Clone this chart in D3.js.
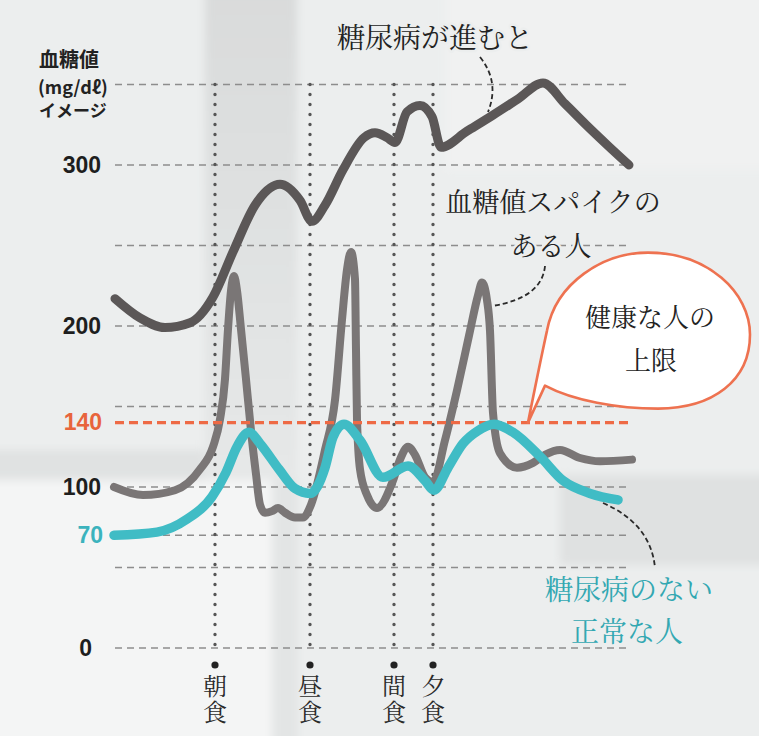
<!DOCTYPE html>
<html><head><meta charset="utf-8">
<script src="https://cdn.jsdelivr.net/npm/d3@7"></script>
<style>body{margin:0;background:#ebeced;} svg{display:block}</style>
</head><body><svg id="c" width="759" height="736"></svg>
<script>
// ---- data (time units along x, blood glucose mg/dl along y) ----
const advT = [2, 27, 52, 77, 100, 120, 142, 167, 187, 199, 212, 230, 251, 262, 274, 282, 294, 307, 319, 328, 354, 380, 405, 430, 452, 473, 495, 516];
const advV = [217, 205, 199, 202, 218, 246, 275, 288, 278, 265, 275, 297, 317, 320, 317, 314, 333, 337, 330, 311, 321, 331, 341, 351, 338, 325, 312, 300];

const spikeT = [1, 30, 62, 87, 100, 107, 112, 115, 118, 121, 124, 128, 133, 138, 143, 147, 152, 159, 165, 172, 182, 190, 198, 212, 222, 229, 234, 238, 242, 243, 244, 247, 254, 264, 280, 287, 295, 302, 312, 320, 332, 344, 356, 365, 369, 374, 377, 380, 387, 404, 420, 432, 447, 467, 487, 519];
const spikeV = [100, 95, 98, 111, 125, 142, 167, 198, 222, 231, 222, 198, 167, 135, 108, 89, 84, 85, 87, 84, 81, 81, 89, 123, 154, 204, 235, 246, 229, 185, 142, 111, 95, 87, 104, 117, 125, 120, 106, 103, 129, 160, 194, 219, 227, 216, 197, 146, 121, 112, 115, 120, 123, 118, 116, 117];

const normT = [1, 44, 74, 99, 113, 124, 136, 147, 166, 182, 197, 212, 220, 231, 247, 270, 295, 312, 321, 335, 350, 365, 381, 400, 427, 450, 477, 505];
const normV = [70, 72, 80, 94, 109, 125, 134, 127, 111, 99, 96, 112, 131, 139, 129, 106, 113, 104, 98, 112, 127, 135, 139, 134, 119, 104, 96, 92];

const gridValues = [0, 50, 70, 100, 150, 200, 250, 300, 350];
const limitValue = 140;
const tickValues = [300, 200, 140, 100, 70, 0];
const mealNames = ["朝食", "昼食", "間食", "夕食"];
const mealT = [102, 197, 281, 320];

// ---- setup ----
const svg = d3.select("#c");
const x = d3.scaleLinear().domain([0, 520]).range([113, 633]);
const y = d3.scaleLinear().domain([0, 350]).range([648, 84.5]);
const jp = '"Noto Serif CJK JP","Noto Sans CJK JP",sans-serif';
const BG = "#eceeee";

// background paper texture (soft)
const defs = svg.append("defs");
defs.append("filter").attr("id","soft").attr("x","-20%").attr("y","-20%").attr("width","140%").attr("height","140%")
  .append("feGaussianBlur").attr("stdDeviation", 4);
const g1 = defs.append("linearGradient").attr("id","band").attr("x1",0).attr("y1",0).attr("x2",0).attr("y2",1);
g1.append("stop").attr("offset","0").attr("stop-color","#d9dbdb");
g1.append("stop").attr("offset","1").attr("stop-color","#e6e8e8");
svg.append("rect").attr("width",759).attr("height",736).attr("fill",BG);
const tex = svg.append("g").attr("filter","url(#soft)");
tex.append("rect").attr("x",-10).attr("y",480).attr("width",285).attr("height",270).attr("fill","#f4f5f5");
tex.append("rect").attr("x",-10).attr("y",450).attr("width",215).attr("height",30).attr("fill","#e0e2e2");
tex.append("rect").attr("x",205).attr("y",-10).attr("width",92).attr("height",490).attr("fill","url(#band)");
tex.append("rect").attr("x",272).attr("y",480).attr("width",26).attr("height",270).attr("fill","#e3e5e5");
tex.append("rect").attr("x",560).attr("y",475).attr("width",210).attr("height",90).attr("fill","#dfe1e1");
tex.append("rect").attr("x",445).attr("y",-10).attr("width",330).attr("height",180).attr("fill","#f0f1f1");

// gridlines
svg.append("g").selectAll("line").data(gridValues).join("line")
  .attr("x1", x(2)).attr("x2", x(515))
  .attr("y1", d => y(d)).attr("y2", d => y(d))
  .attr("stroke", "#8d8d8d").attr("stroke-width", 1.6).attr("stroke-dasharray", "7 5");

// meal dotted verticals
svg.append("g").selectAll("line").data(mealT).join("line")
  .attr("x1", d => x(d)).attr("x2", d => x(d))
  .attr("y1", y(350)).attr("y2", y(0))
  .attr("stroke", "#555").attr("stroke-width", 3.4)
  .attr("stroke-linecap", "round").attr("stroke-dasharray", "0 10");

// meal markers (vertical text)
const mg = svg.append("g").selectAll("g").data(mealNames).join("g")
  .attr("transform", (d, i) => `translate(${x(mealT[i])},0)`);
mg.append("circle").attr("cy", 665).attr("r", 3.6).attr("fill", "#222");
mg.append("text").attr("x", 0).attr("y", 674)
  .attr("writing-mode", "vertical-rl").attr("text-anchor", "start")
  .attr("letter-spacing", 2)
  .attr("font-family", jp).attr("font-size", 24).attr("fill", "#2a2a2a")
  .text(d => d);

// axis labels
const axis = d3.axisLeft(y).tickValues(tickValues).tickSize(0).tickPadding(0).tickFormat(d3.format("d"));
const ax = svg.append("g").attr("transform", "translate(101,0)").call(axis);
ax.select(".domain").remove();
ax.selectAll("text")
  .attr("font-family", '"Liberation Sans",Arial,sans-serif').attr("font-weight", "bold").attr("font-size", 23)
  .attr("fill", d => d === 140 ? "#e8643c" : d === 70 ? "#3bb3bd" : "#1e1e1e")
  .attr("x", d => d === 0 ? -9 : d === 70 ? 2 : d === 140 ? 1 : 0);

// y-axis title
const yt = svg.append("text").attr("font-family", '"Noto Sans CJK JP",sans-serif').attr("font-weight","bold").attr("fill","#222");
yt.append("tspan").attr("x", 39).attr("y", 67).attr("font-size", 20).text("血糖値");
yt.append("tspan").attr("x", 38).attr("y", 94).attr("font-size", 18).text("(mg/dℓ)");
yt.append("tspan").attr("x", 39).attr("y", 117).attr("font-size", 17).text("イメージ");

// lines
const line = d3.line().x(d => x(d[0])).y(d => y(d[1])).curve(d3.curveMonotoneX);
svg.append("path").datum(d3.zip(spikeT, spikeV)).attr("d", line)
  .attr("fill","none").attr("stroke","#7a7676").attr("stroke-width", 8).attr("stroke-linecap","round").attr("stroke-linejoin","round");

// 140 limit
svg.append("line").attr("x1", x(2)).attr("x2", x(515)).attr("y1", y(limitValue)).attr("y2", y(limitValue))
  .attr("stroke", "#ee6a45").attr("stroke-width", 3.2).attr("stroke-dasharray", "9 5");

svg.append("path").datum(d3.zip(advT, advV)).attr("d", line)
  .attr("fill","none").attr("stroke","#5b5757").attr("stroke-width", 9).attr("stroke-linecap","round").attr("stroke-linejoin","round");
svg.append("path").datum(d3.zip(normT, normV)).attr("d", line)
  .attr("fill","none").attr("stroke","#40bcc5").attr("stroke-width", 9.5).attr("stroke-linecap","round").attr("stroke-linejoin","round");

// speech bubble anchored at the 140 line
const tx = x(415), ty = y(limitValue);
const b = (dx, dy) => `${tx + dx},${ty + dy}`;
svg.append("path")
  .attr("d", `M${b(0,0)} C${b(6,-30)} ${b(12,-60)} ${b(19,-92)} C${b(28,-140)} ${b(75,-170)} ${b(120,-170)} C${b(180,-170)} ${b(222,-130)} ${b(222,-88)} C${b(222,-42)} ${b(185,-14)} ${b(130,-14)} C${b(90,-14)} ${b(45,-22)} ${b(17,-37)} Z`)
  .attr("fill", "#fff").attr("stroke", "#ee7250").attr("stroke-width", 2.6).attr("stroke-linejoin","round");

// leaders
const lead = (d) => svg.append("path").attr("d", d).attr("fill","none")
  .attr("stroke","#2a2a2a").attr("stroke-width", 1.8).attr("stroke-dasharray","5 3");
lead("M480,57 Q500,82 488,112");
lead("M545,266 Q542,298 492,306");
lead("M603,503 Q651,524 655,568");

// annotation texts
const label = (t, cx, cy, size, fill, halo) => {
  const el = svg.append("text").attr("x", cx).attr("y", cy).attr("dy","0.36em")
    .attr("text-anchor","middle").attr("font-family", jp).attr("font-size", size).attr("fill", fill).text(t);
  if (halo) el.attr("stroke", BG).attr("stroke-width", 5).attr("paint-order","stroke").attr("stroke-linejoin","round");
  return el;
};
label("糖尿病が進むと", 435, 38, 28, "#222", true);
label("血糖値スパイクの", 553, 202, 27, "#222", true);
label("ある人", 551, 246, 27, "#222", true);
label("健康な人の", 650, 318, 26, "#222", false);
label("上限", 651, 361, 26, "#222", false);
label("糖尿病のない", 629, 590, 28, "#33a8b2", false);
label("正常な人", 627, 632, 28, "#33a8b2", false);
</script></body></html>
